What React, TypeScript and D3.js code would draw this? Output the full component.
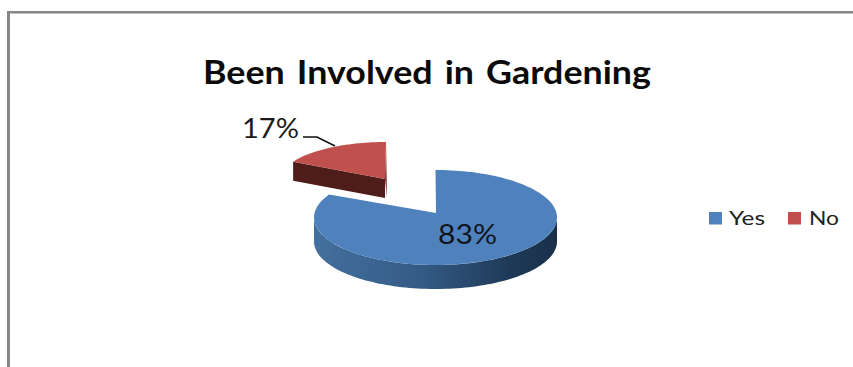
import React from "react";
import * as d3 from "d3";

const categories = ["Yes", "No"];
const shares = [83, 17];
const sliceColors = ["#4f81bd", "#c0504d"];
const chartTitle = "Been Involved in Gardening";

const WIDTH = 853;
const HEIGHT = 367;

// Projected ellipses for the tilted pie; the "No" slice is pulled out and drawn smaller.
const bodies = [
  { cx: 435.5, cy: 217.5, rx: 121.5, ry: 47.5, apexX: 436, apexY: 213, depth: 24 },
  { cx: 386, cy: 180, rx: 106, ry: 38, apexX: 385, apexY: 179, depth: 19 },
];

const pieLayout = d3.pie<number>().sort(null)(shares);
const line = d3.line();

function rim(b: (typeof bodies)[number], from: number, to: number, dy = 0): [number, number][] {
  const n = Math.max(2, Math.ceil(Math.abs(to - from) * 30));
  return d3.range(n + 1).map((i) => {
    const t = from + ((to - from) * i) / n;
    return [b.cx + b.rx * Math.sin(t), b.cy - b.ry * Math.cos(t) + dy] as [number, number];
  });
}

function topFace(b: (typeof bodies)[number], start: number, end: number): string {
  return line([[b.apexX, b.apexY], ...rim(b, start, end)])! + "Z";
}

// Outer wall of the big slice: the front half of the ellipse, right to left.
function outerWall(b: (typeof bodies)[number], start: number, end: number): string {
  const from = Math.max(start, Math.PI / 2);
  const to = Math.min(end, (3 * Math.PI) / 2);
  return line([...rim(b, from, to), ...rim(b, to, from, b.depth)])! + "Z";
}

// Cut wall of the pulled-out slice, from its left corner down to the apex.
function cutWall(b: (typeof bodies)[number], angle: number): string {
  const [edge] = rim(b, angle, angle);
  return (
    line([
      edge,
      [b.apexX, b.apexY],
      [b.apexX, b.apexY + b.depth],
      [edge[0], edge[1] + b.depth],
    ])! + "Z"
  );
}

// Thin side face running along the right edge of the pulled-out slice.
function sideEdge(b: (typeof bodies)[number], angle: number): string {
  const [edge] = rim(b, angle, angle);
  return line([[b.apexX, b.apexY], edge, [b.apexX + 2, b.apexY + b.depth]])! + "Z";
}

const labelFont = "Lato, 'Open Sans', sans-serif";

export default function App() {
  const [yes, no] = pieLayout;
  return (
    <svg
      width={WIDTH}
      height={HEIGHT}
      viewBox={`0 0 ${WIDTH} ${HEIGHT}`}
      style={{ position: "absolute", left: 0, top: 0, background: "#fff" }}
    >
      <defs>
        <linearGradient id="yes-wall" x1="0" x2="1" y1="0" y2="0">
          <stop offset="0" stopColor="#44709f" />
          <stop offset="0.45" stopColor="#335a84" />
          <stop offset="0.8" stopColor="#1f3a58" />
          <stop offset="1" stopColor="#1a3049" />
        </linearGradient>
      </defs>

      {/* Chart frame: top and left borders only reach the page edges */}
      <rect x={7} y={11} width={WIDTH - 7} height={2.5} fill="#868686" />
      <rect x={7} y={11} width={3} height={HEIGHT - 11} fill="#868686" />

      <text
        x={203}
        y={84}
        fontFamily={labelFont}
        fontWeight={700}
        fontSize={32}
        wordSpacing={3}
        textLength={448}
        lengthAdjust="spacingAndGlyphs"
        fill="#0b0b0b"
      >
        {chartTitle}
      </text>

      {/* "No" slice, pulled out of the pie */}
      <g data-category={categories[1]}>
        <path d={sideEdge(bodies[1], no.endAngle)} fill="#7a2f2d" />
        <path d={cutWall(bodies[1], no.startAngle)} fill="#4e1d1a" />
        <path d={topFace(bodies[1], no.startAngle, no.endAngle)} fill={sliceColors[1]} />
      </g>

      {/* "Yes" slice */}
      <g data-category={categories[0]}>
        <path d={outerWall(bodies[0], yes.startAngle, yes.endAngle)} fill="url(#yes-wall)" />
        <path d={topFace(bodies[0], yes.startAngle, yes.endAngle)} fill={sliceColors[0]} />
      </g>

      {/* Leader from the 17% label to its slice */}
      <path d="M303,137H317L335,146" fill="none" stroke="#111" strokeWidth={1.6} />

      <text x={438} y={244} fontFamily={labelFont} fontSize={26} textLength={59} lengthAdjust="spacingAndGlyphs" fill="#10151c">
        {`${shares[0]}%`}
      </text>
      <text x={242} y={138} fontFamily={labelFont} fontSize={26} textLength={57} lengthAdjust="spacingAndGlyphs" fill="#1a1a1a">
        {`${shares[1]}%`}
      </text>

      {/* Legend */}
      <rect x={709} y={212} width={13} height={12.5} fill={sliceColors[0]} />
      <text x={729} y={225} fontFamily={labelFont} fontSize={20} textLength={36} lengthAdjust="spacingAndGlyphs" fill="#222">
        {categories[0]}
      </text>
      <rect x={788} y={212} width={13} height={12.5} fill={sliceColors[1]} />
      <text x={809} y={225} fontFamily={labelFont} fontSize={20} textLength={30} lengthAdjust="spacingAndGlyphs" fill="#222">
        {categories[1]}
      </text>
    </svg>
  );
}
